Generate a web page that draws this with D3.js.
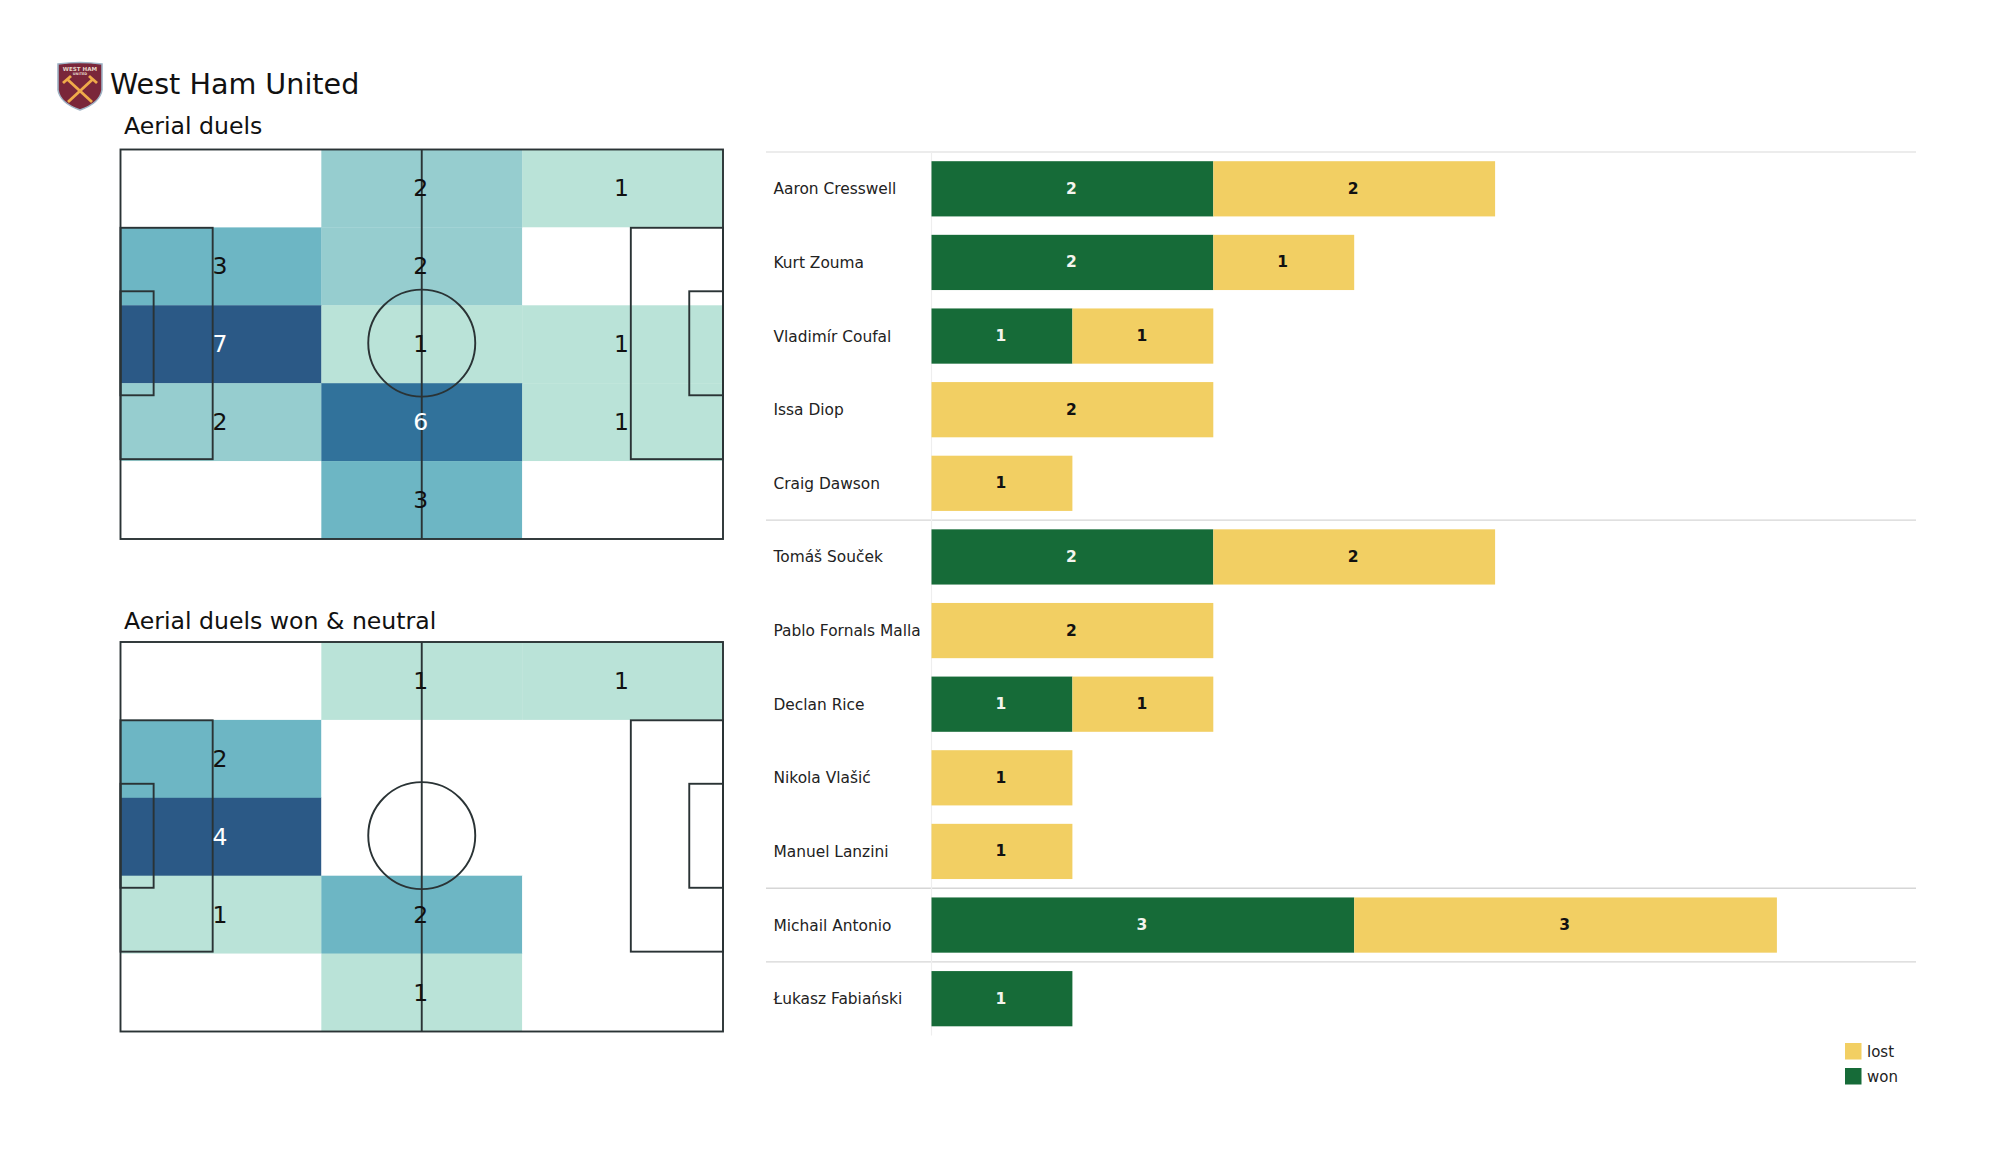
<!DOCTYPE html>
<html><head><meta charset="utf-8">
<style>html,body{margin:0;padding:0;background:#fff}svg{display:block}text{font-family:"DejaVu Sans",sans-serif}</style>
<script src="https://cdn.jsdelivr.net/npm/d3@7"></script></head>
<body><svg id="c" width="2000" height="1175"></svg>
<script>
const teamName = "West Ham United";
const pitchTitles = ["Aerial duels", "Aerial duels won & neutral"];
const aerialDuels = [[0,2,1],[3,2,0],[7,1,1],[2,6,1],[0,3,0]];
const aerialDuelsWon = [[0,1,1],[2,0,0],[4,0,0],[1,2,0],[0,1,0]];
const players = ["Aaron Cresswell","Kurt Zouma","Vladimír Coufal","Issa Diop","Craig Dawson","Tomáš Souček","Pablo Fornals Malla","Declan Rice","Nikola Vlašić","Manuel Lanzini","Michail Antonio","Łukasz Fabiański"];
const won = [2,2,1,0,0,2,0,1,0,0,3,1];
const lost = [2,1,1,2,1,2,2,1,1,1,3,0];
const groupEnds = ["Craig Dawson","Manuel Lanzini","Michail Antonio"];
const legendItems = [["lost","#f2cf63"],["won","#166b38"]];

const svg = d3.select("#c");
const heatColor = d3.scaleThreshold().domain([0.01,0.265,0.35,0.6,0.9])
  .range(["#ffffff","#bae3d8","#96cdcf","#6db6c4","#31729b","#2b5986"]);
const LINE = "#2a3335";

function drawPitch(grid, title, top, baseline){
  const g = svg.append("g");
  const x = d3.scaleLinear().domain([0,100]).range([120.5,723]);
  const y = d3.scaleLinear().domain([0,100]).range([top,top+389.5]);
  const cx = d3.scaleBand().domain(d3.range(3)).range([120.5,723]);
  const cy = d3.scaleBand().domain(d3.range(5)).range([top,top+389.5]);
  const max = d3.max(grid.flat());
  const cells = grid.flatMap((r,i)=>r.map((v,j)=>({v,i,j})));
  g.selectAll("rect.cell").data(cells).join("rect").attr("class","cell")
    .attr("x",d=>cx(d.j)).attr("y",d=>cy(d.i))
    .attr("width",cx.bandwidth()+0.3).attr("height",cy.bandwidth()+0.3)
    .attr("fill",d=>heatColor(d.v/max));
  const box = (x0,x1,y0,y1)=>g.append("rect").attr("x",x(x0)).attr("y",y(y0))
    .attr("width",x(x1)-x(x0)).attr("height",y(y1)-y(y0))
    .attr("fill","none").attr("stroke",LINE).attr("stroke-width",1.9);
  box(0,100,0,100);
  box(0,15.3,20.1,79.5); box(84.7,100,20.1,79.5);
  box(0,5.5,36.4,63.1); box(94.4,100,36.4,63.1);
  g.append("line").attr("x1",x(50)).attr("x2",x(50)).attr("y1",y(0)).attr("y2",y(100))
    .attr("stroke",LINE).attr("stroke-width",1.9);
  g.append("circle").attr("cx",x(50)).attr("cy",y(49.7)).attr("r",53.5)
    .attr("fill","none").attr("stroke",LINE).attr("stroke-width",1.9);
  g.selectAll("text.val").data(cells.filter(d=>d.v>0)).join("text").attr("class","val")
    .attr("x",d=>cx(d.j)+cx.bandwidth()/2-1).attr("y",d=>cy(d.i)+cy.bandwidth()/2)
    .attr("text-anchor","middle").attr("dominant-baseline","central")
    .attr("font-size",23.5).attr("fill",d=>d.v/max>=0.6&&d.v>=4?"#fff":"#111")
    .text(d=>d.v);
  svg.append("text").attr("x",124).attr("y",baseline).attr("font-size",23.6).attr("fill","#111").text(title);
}
drawPitch(aerialDuels,pitchTitles[0],149.5,134);
drawPitch(aerialDuelsWon,pitchTitles[1],642,628.5);

svg.append("text").attr("x",110).attr("y",94).attr("font-size",28.6).attr("fill","#111").text(teamName);

// crest
const crest = svg.append("g").attr("transform","translate(58,62)");
crest.append("path").attr("d","M0,2 Q22,-1 44,2 L44,28 Q42,41 22,48 Q2,41 0,28 Z").attr("fill","#7a263a").attr("stroke","#9fb4c6").attr("stroke-width",1.6);
crest.append("text").attr("x",22).attr("y",8.5).attr("text-anchor","middle").attr("font-size",5.6).attr("font-weight","bold").attr("fill","#e6d6c8").text("WEST HAM");
crest.append("text").attr("x",22).attr("y",13).attr("text-anchor","middle").attr("font-size",3.4).attr("font-weight","bold").attr("fill","#e6d6c8").text("UNITED");
[["M9,17 L34,40","M5,21 L13,14"],["M35,17 L10,40","M39,21 L31,14"]].forEach(p=>p.forEach(d=>
  crest.append("path").attr("d",d).attr("stroke","#f0ab4a").attr("stroke-width",2.8).attr("fill","none")));

// bars
const xB = d3.scaleLinear().domain([0,1]).range([931.5,1072.4]);
const yB = d3.scaleBand().domain(players).range([152,1035.5]).paddingInner(0.25).paddingOuter(0.125);
const step = yB.step();
const series = d3.stack().keys(["won","lost"])(players.map((p,i)=>({player:p,won:won[i],lost:lost[i]})));
const colors = {won:"#166b38",lost:"#f2cf63"}, textCol={won:"#f4f4ee",lost:"#111"};
const lineX0=766, lineX1=1916;
const lineYs = [152].concat(groupEnds.map(n=>yB(n)+yB.bandwidth()+(step-yB.bandwidth())/2));
svg.selectAll("line.sep").data(lineYs).join("line").attr("class","sep")
  .attr("x1",lineX0).attr("x2",lineX1).attr("y1",d=>d).attr("y2",d=>d)
  .attr("stroke",(d,i)=>i?"#d6d6d6":"#e6e6e6").attr("stroke-width",1.4);
svg.append("line").attr("x1",xB(0)).attr("x2",xB(0)).attr("y1",152).attr("y2",1035.5).attr("stroke","#eeeeee").attr("stroke-width",1.2);
series.forEach(s=>{
  const g = svg.append("g");
  const rows = s.filter(d=>d[1]>d[0]);
  g.selectAll("rect").data(rows).join("rect")
    .attr("x",d=>xB(d[0])).attr("width",d=>xB(d[1])-xB(d[0]))
    .attr("y",d=>yB(d.data.player)).attr("height",yB.bandwidth()).attr("fill",colors[s.key]);
  g.selectAll("text").data(rows).join("text")
    .attr("x",d=>(xB(d[0])+xB(d[1]))/2-1).attr("y",d=>yB(d.data.player)+yB.bandwidth()/2)
    .attr("text-anchor","middle").attr("dominant-baseline","central")
    .attr("font-size",15.5).attr("font-weight","bold").attr("fill",textCol[s.key]).text(d=>d[1]-d[0]);
});
svg.selectAll("text.player").data(players).join("text").attr("class","player")
  .attr("x",773.5).attr("y",d=>yB(d)+yB.bandwidth()/2+0.5)
  .attr("dominant-baseline","central").attr("font-size",15.4).attr("fill","#222").text(d=>d);

// legend
const yL = d3.scaleBand().domain(legendItems.map(d=>d[0])).range([1043,1083]).paddingInner(0.4).paddingOuter(0);
const yLstep = 24;
const lg = svg.selectAll("g.lg").data(legendItems).join("g").attr("class","lg");
lg.append("rect").attr("x",1845).attr("y",d=>yL(d[0])).attr("width",16.5).attr("height",16.5).attr("fill",d=>d[1]);
lg.append("text").attr("x",1867).attr("y",d=>yL(d[0])+8.5).attr("dominant-baseline","central").attr("font-size",15).attr("fill","#222").text(d=>d[0]);
</script></body></html>
